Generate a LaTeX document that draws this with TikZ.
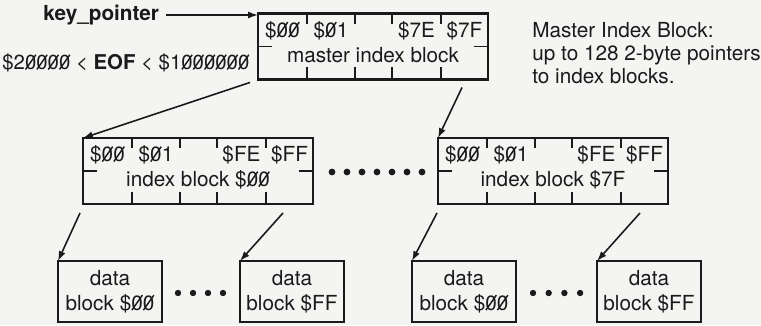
\documentclass[tikz,border=0pt]{standalone}
\usepackage{fontspec}
\setmainfont{TeX Gyre Heros}
\usetikzlibrary{arrows.meta,calc}
\definecolor{ink}{HTML}{1A1A1A}
\definecolor{paper}{HTML}{F4F4F2}

% slashed zero, as the figure prints it
\newcommand{\zr}{\ooalign{0\cr\hidewidth\raisebox{0.33em}{\rotatebox[origin=c]{55}{\rule{0.88em}{0.07em}}}\hidewidth\cr}}

% pointer block: name, top-left corner, caption, four cell labels
\newcommand{\ptrblock}[7]{%
  \node[block, anchor=north west] (#1) at #2 {};
  \foreach \tx in {49,97,134,183} {
    \draw[tick] ($(#1.north west)+(\tx,0)$) -- ++(0,10);
    \draw[tick] ($(#1.south west)+(\tx,0)$) -- ++(0,-12);
  }
  \draw[tick] ($(#1.north west)+(0,33)$) -- ++(14,0);
  \draw[tick] ($(#1.north east)+(0,33)$) -- ++(-14,0);
  \node[lbl] (#1-name) at ($(#1.north west)+(115,42)$) {#3};
  \node[lbl] (#1-c1) at ($(#1.north west)+(24.5,17)$) {#4};
  \node[lbl] (#1-c2) at ($(#1.north west)+(73,17)$) {#5};
  \node[lbl] (#1-c4) at ($(#1.north west)+(158.5,17)$) {#6};
  \node[lbl] (#1-c5) at ($(#1.north west)+(206.5,17)$) {#7};
}

\begin{document}
\begin{tikzpicture}[
    x=0.02cm, y=-0.02cm,
    block/.style={draw=ink, line width=1.2pt, minimum width=4.6cm,
        minimum height=1.32cm, inner sep=0pt, outer sep=0pt},
    datbox/.style={draw=ink, line width=1.2pt, minimum width=2.08cm,
        minimum height=1.22cm, inner sep=0pt, outer sep=0pt, align=center,
        text=ink, font=\fontsize{11.8}{14.2}\selectfont},
    tick/.style={ink, line width=0.9pt},
    lbl/.style={text=ink, inner sep=0pt, font=\fontsize{11.8}{14}\selectfont},
    ptr/.style={ink, line width=0.9pt, -{Latex[length=5.6pt, width=4pt]}},
]

% Paper
\fill[paper] (0,0) rectangle (761,325);
\useasboundingbox (0,0) rectangle (761,325);

% Master index block
\ptrblock{master}{(258,13.5)}{master index block}{\$\zr\zr}{\$\zr1}{\$7E}{\$7F}

% Index blocks
\ptrblock{idxA}{(83,138)}{index block \$\zr\zr}{\$\zr\zr}{\$\zr1}{\$FE}{\$FF}
\ptrblock{idxB}{(438,138)}{index block \$7F}{\$\zr\zr}{\$\zr1}{\$FE}{\$FF}

% Data blocks
\node[datbox, anchor=north west] (datA0) at (58,261) {data\\block \$\zr\zr};
\node[datbox, anchor=north west] (datAF) at (240,261) {data\\block \$FF};
\node[datbox, anchor=north west] (datB0) at (412,261) {data\\block \$\zr\zr};
\node[datbox, anchor=north west] (datBF) at (597,261) {data\\block \$FF};

% Left labels
\node[lbl, anchor=west] (keyptr) at (43,15) {\textbf{key\_pointer}};
\node[lbl, anchor=west, font=\fontsize{11.6}{14}\selectfont] (eofrange) at (2,63)
    {\$2\zr\zr\zr\zr{} < \textbf{EOF} < \$1\zr\zr\zr\zr\zr\zr};

% Note on the right
\node[lbl, anchor=west, align=left, font=\fontsize{11.8}{12.9}\selectfont] (note)
    at (532,53) {Master Index Block:\\up to 128 2-byte pointers\\to index blocks.};

% Pointers
\draw[ptr] ($(keyptr.east)+(7,0)$) -- (keyptr.east -| master.west);
\draw[ptr] ($(master.south west)+(-8,3)$) -- (idxA.north west);
\draw[ptr] ($(master.south west)+(204,8)$) -- (idxB.north west);
\draw[ptr] ($(idxA.south west)+(-3,9)$) -- (datA0.north west);
\draw[ptr] ($(idxA.south west)+(200,9)$) -- (datAF.north west);
\draw[ptr] ($(idxB.south west)+(-1,9)$) -- (datB0.north west);
\draw[ptr] ($(idxB.south west)+(202,9)$) -- (datBF.north west);

% Ellipsis dots
\foreach \dx in {0,...,6} \fill[ink] (332+15*\dx,172) circle (3.4);
\foreach \dx in {0,...,3} \fill[ink] (178+15*\dx,293) circle (3.2);
\foreach \dx in {0,...,3} \fill[ink] (533+15.7*\dx,293) circle (3.2);

\end{tikzpicture}
\end{document}
